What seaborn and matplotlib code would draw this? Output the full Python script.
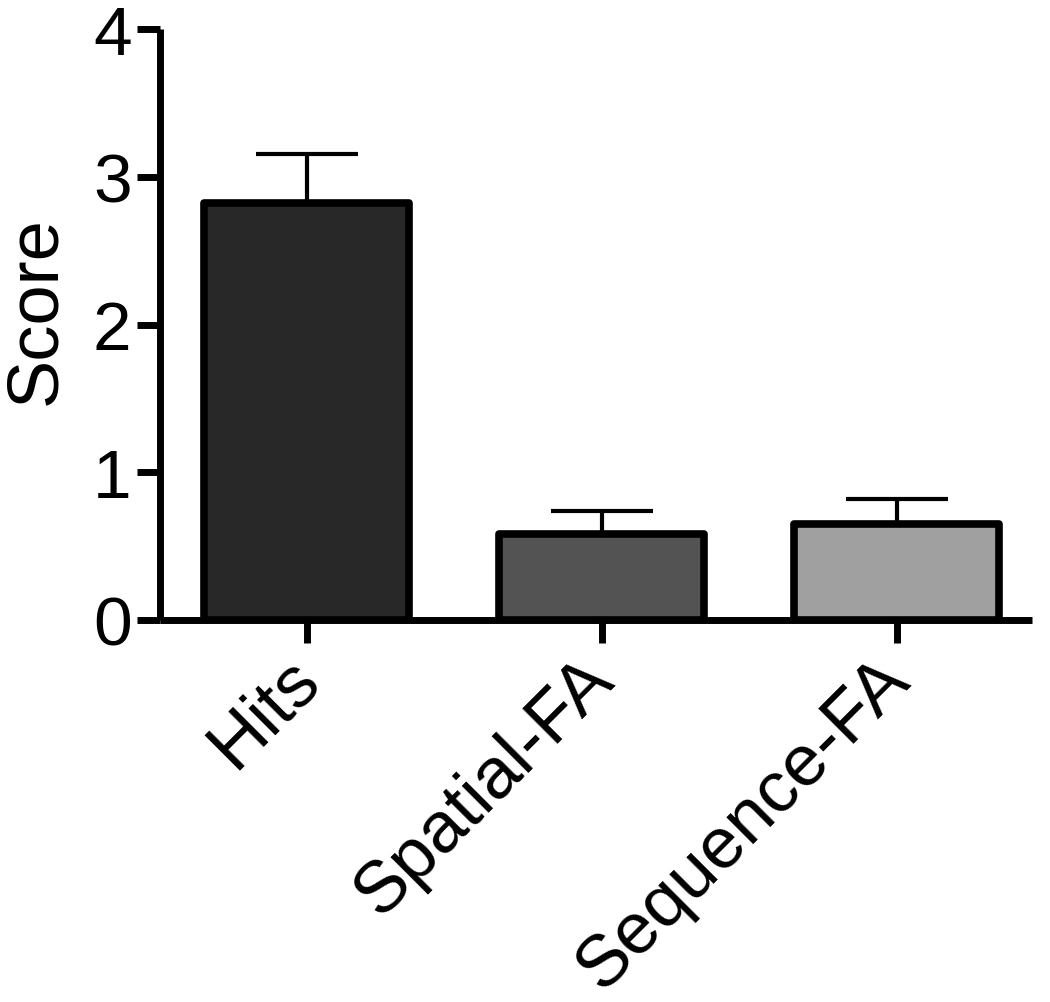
import numpy as np
import pandas as pd
import seaborn as sns
import matplotlib
matplotlib.use("Agg")
import matplotlib.pyplot as plt
import matplotlib.transforms as mtransforms

# data
categories = ["Hits", "Spatial-FA", "Sequence-FA"]
means = [2.82, 0.58, 0.65]
sem = [0.335, 0.16, 0.17]
bar_colors = ["#282828", "#535353", "#a0a0a0"]

sns.set_style("ticks", {"axes.edgecolor": "black", "xtick.color": "black",
                        "ytick.color": "black", "text.color": "black",
                        "axes.labelcolor": "black"})
plt.rcParams['font.family'] = ['Liberation Sans', 'DejaVu Sans']

df = pd.DataFrame({"group": categories, "score": means})

fig = plt.figure(figsize=(10.5, 10.03), dpi=100)
ax = fig.add_axes([160 / 1050, 1 - 621 / 1003, (1032 - 160) / 1050, (621 - 30) / 1003])

sns.barplot(data=df, x="group", y="score", hue="group", palette=bar_colors,
            legend=False, errorbar=None, width=0.695,
            edgecolor="black", linewidth=5.5, ax=ax, zorder=3)
for p in ax.patches:
    p.set_joinstyle("round")

# one-sided (upper) error bars
xpos = np.arange(len(categories))
ax.errorbar(xpos, means, yerr=[np.zeros(len(sem)), sem], fmt="none",
            ecolor="black", elinewidth=3, capsize=37, capthick=3, zorder=2)

ax.set_ylim(0, 4)
ax.set_xlim(-0.498, 2.458)
ax.set_yticks([0, 1, 2, 3, 4])
ax.set_xlabel("")
ax.set_ylabel("Score", fontsize=52)
ax.yaxis.set_label_coords(-0.103, 0.526)

for s in ["top", "right"]:
    ax.spines[s].set_visible(False)
for s in ["left", "bottom"]:
    ax.spines[s].set_linewidth(5)
    ax.spines[s].set_capstyle("butt")

ax.tick_params(axis="both", length=16.5, width=5, labelsize=50, pad=4,
               colors="black")
shift = mtransforms.ScaledTranslation(-22 / 100, 4 / 100, fig.dpi_scale_trans)
for lab in ax.get_xticklabels():
    lab.set_rotation(45)
    lab.set_ha("right")
    lab.set_rotation_mode("anchor")
    lab.set_fontsize(52)
    lab.set_transform(lab.get_transform() + shift)

fig.savefig("out.png", dpi=100, facecolor="white")
